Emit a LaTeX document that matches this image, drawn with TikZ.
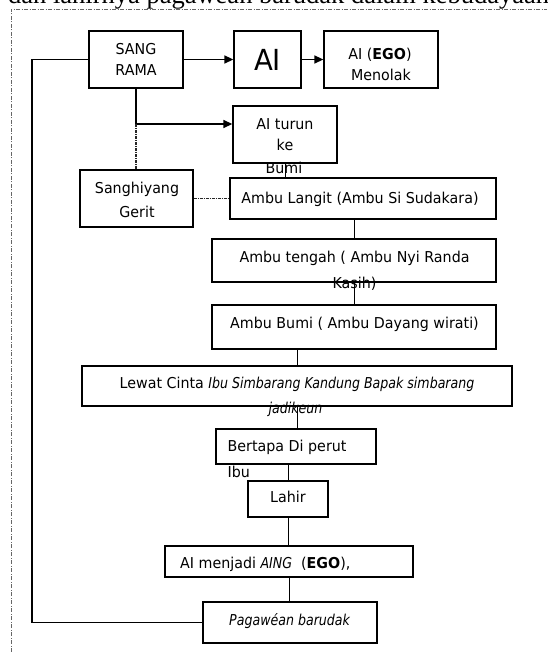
\documentclass[tikz,border=0pt]{standalone}
\usepackage{fontspec}
\setmainfont{DejaVu Sans}[FakeStretch=0.95]
\newfontfamily\condfont{DejaVu Sans}[FakeStretch=0.84]
\newfontfamily\headfont{Liberation Serif}
\usetikzlibrary{arrows.meta}
\newcommand\ci[1]{{\condfont\itshape #1}}
\begin{document}
\begin{tikzpicture}[x=1pt,y=-1pt,
  box/.style={draw, line width=1.3pt, inner sep=0pt},
  txt/.style={inner sep=0pt, anchor=base, font=\fontsize{15}{18}\selectfont},
  txtw/.style={txt, anchor=base west},
  conn/.style={line width=1.4pt},
  thin/.style={line width=1pt},
  arr/.style={conn, -{Triangle[length=9pt,width=8pt]}},
  dd/.style={line width=1.2pt, draw=black!85, dash pattern=on 3pt off 1pt on 1pt off 1pt},
  frame/.style={line width=0.7pt, draw=black!60, dash pattern=on 4pt off 1.5pt on 1pt off 1.5pt}]
\useasboundingbox (0,0) rectangle (547,652);
\clip (0,0) rectangle (547,652);

% heading (cut off at the top)
\node[anchor=base west, inner sep=0pt, font=\headfont\fontsize{26.5}{30}\selectfont] (head) at (8,3.5) {dan lahirnya pagawéan barudak dalam kebudayaan};
\draw[frame] (11,652) -- (11,9) -- (547,9);

% boxes
\node[box, minimum width=94pt,  minimum height=57pt] (sang)   at (136,59.5) {};
\node[box, minimum width=67pt,  minimum height=57pt] (ai)     at (267.5,59.5) {};
\node[box, minimum width=114pt, minimum height=57pt] (ego)    at (381,59.5) {};
\node[box, minimum width=104pt, minimum height=57pt] (turun)  at (285,134.5) {};
\node[box, minimum width=113pt, minimum height=57pt] (sgh)    at (136.5,198.5) {};
\node[box, minimum width=266pt, minimum height=41pt] (langit) at (363,198.5) {};
\node[box, minimum width=284pt, minimum height=43pt] (tengah) at (354,260.5) {};
\node[box, minimum width=284pt, minimum height=44pt] (bumi)   at (354,327) {};
\node[box, minimum width=430pt, minimum height=40pt] (lewat)  at (297,386) {};
\node[box, minimum width=160pt, minimum height=35pt] (tapa)   at (296,446.5) {};
\node[box, minimum width=80pt,  minimum height=36pt] (lahir)  at (288,499) {};
\node[box, minimum width=248pt, minimum height=31pt] (aing)   at (289,561.5) {};
\node[box, minimum width=174pt, minimum height=41pt] (paga)   at (290,622.5) {};

% connectors
\coordinate (lt) at (32,59.5);
\coordinate (j1) at (136,124);
\draw[arr] (sang.east) -- (ai.west);
\draw[arr] (ai.east) -- (ego.west);
\draw[conn] (sang.west) -- (lt) |- (paga.west);
\draw[conn] (sang.south) -- (j1);
\draw[arr] (j1) -- (j1 -| turun.west);
\draw[dd] (j1) -- (j1 |- sgh.north);
\draw[dd] (sgh.east) -- (langit.west);
\draw[thin] (turun.south) -- (turun.south |- langit.north);
\draw[thin] (tengah.north |- langit.south) -- (tengah.north);
\draw[thin] (tengah.south) -- (bumi.north);
\draw[thin] (lewat.north |- bumi.south) -- (lewat.north);
\draw[thin] (lewat.south) -- (lewat.south |- tapa.north);
\draw[thin] (lahir.north |- tapa.south) -- (lahir.north);
\draw[thin] (lahir.south) -- (lahir.south |- aing.north);
\draw[thin] (aing.south) -- (aing.south |- paga.north);

% texts
\node[txt] (t1) at (136,54.5) {SANG};
\node[txt] (t2) at (136,75.5) {RAMA};
\node[txt, font=\fontsize{29}{32}\selectfont] (t3) at (267.5,70.5) {AI};
\node[txt] (t4) at (380,59.5) {AI (\textbf{EGO})};
\node[txt] (t5) at (381,80.5) {Menolak};
\node[txt] (t6) at (285,129.5) {AI turun};
\node[txt] (t7) at (285,150.5) {ke};
\node[txt] (t8) at (284,173.5) {Bumi};
\node[txt] (t9) at (137,193.5) {Sanghiyang};
\node[txt] (t10) at (137,217.5) {Gerit};
\node[txt] (t11) at (360,203.5) {Ambu Langit (Ambu Si Sudakara)};
\node[txt] (t12) at (354.5,262.5) {Ambu tengah ( Ambu Nyi Randa};
\node[txt] (t13) at (354.5,288.5) {Kasih)};
\node[txt] (t14) at (354.5,328.5) {Ambu Bumi ( Ambu Dayang wirati)};
\node[txt] (t15) at (297,388.5) {Lewat Cinta \ci{Ibu Simbarang Kandung Bapak simbarang}};
\node[txt] (t16) at (295.5,413.5) {\ci{jadikeun}};
\node[txtw] (t17) at (227.5,451.5) {Bertapa Di perut};
\node[txtw] (t18) at (227.5,477.5) {Ibu};
\node[txt] (t19) at (288,502.5) {Lahir};
\node[txtw] (t20) at (180,568.5) {AI menjadi \ci{AING}~ (\textbf{EGO}),};
\node[txt] (t21) at (289.6,625.5) {\ci{Pagawéan barudak}};
\end{tikzpicture}
\end{document}
